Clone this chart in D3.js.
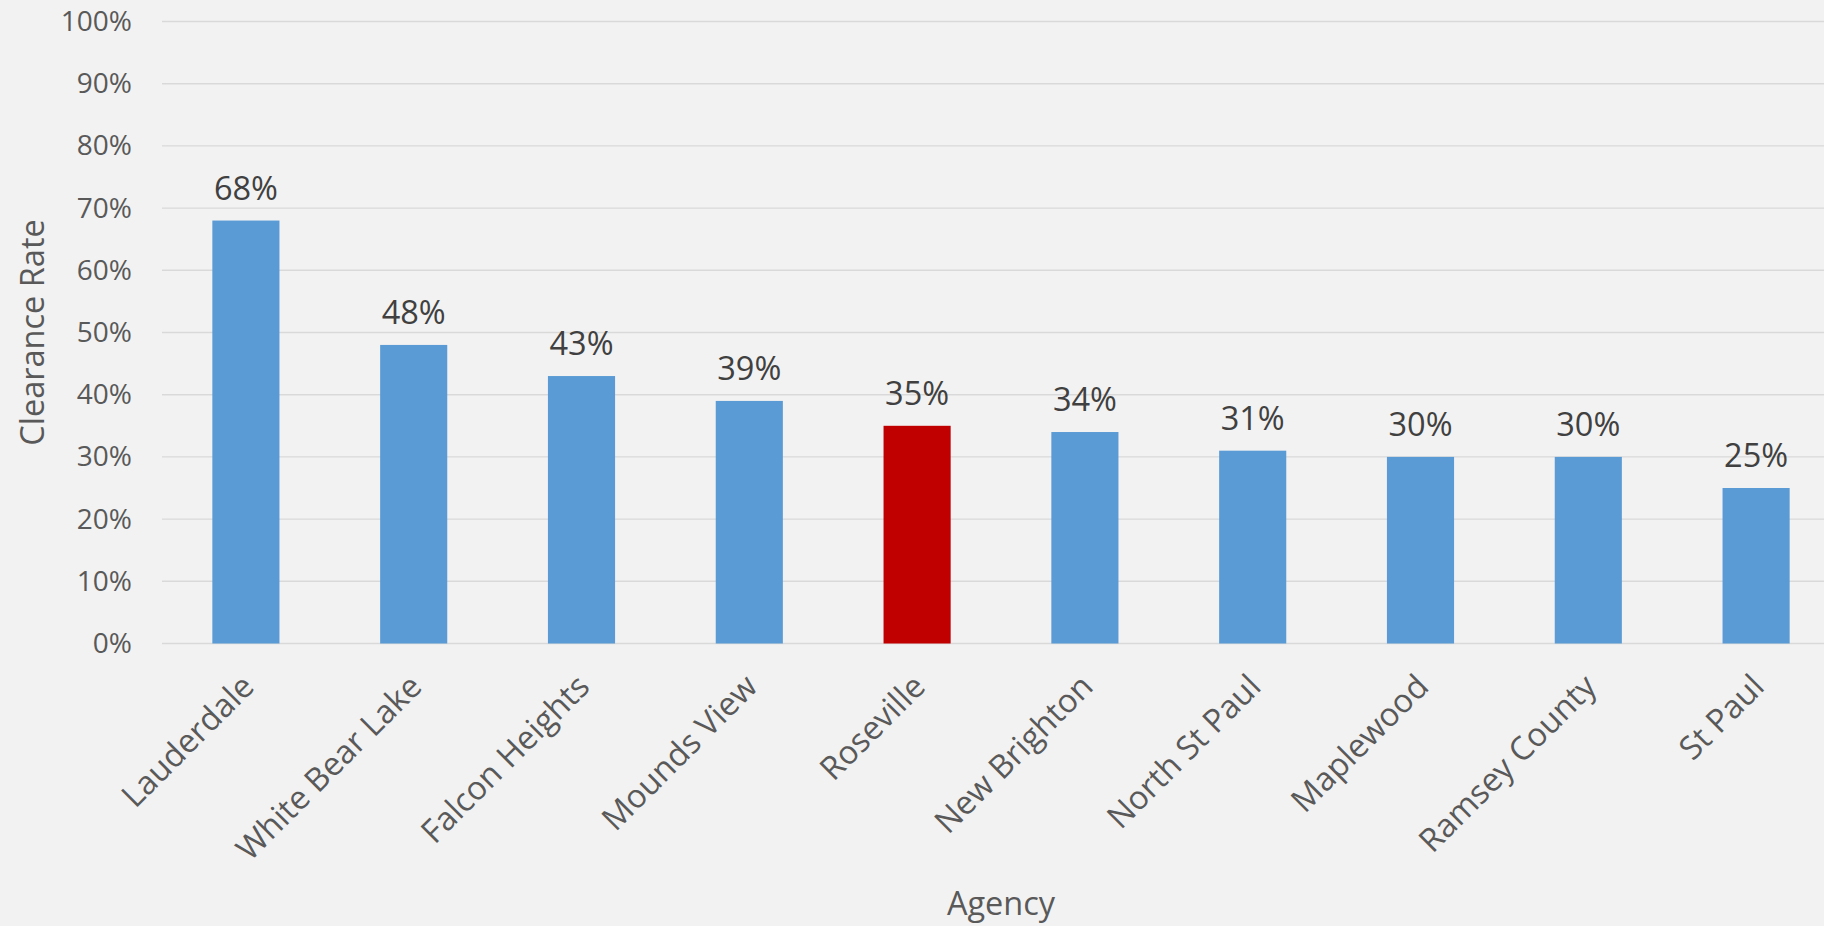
<!DOCTYPE html>
<html>
<head>
<meta charset="utf-8">
<script src="https://cdn.jsdelivr.net/npm/d3@7/dist/d3.min.js"></script>
<style>
  html, body { margin: 0; padding: 0; background: #F2F2F2; }
  svg { display: block; font-family: "Open Sans", "Noto Sans", sans-serif; }
</style>
</head>
<body>
<svg id="chart" width="1824" height="926"></svg>
<script>
// Clearance rate by agency
const agencies = ["Lauderdale", "White Bear Lake", "Falcon Heights", "Mounds View", "Roseville",
                  "New Brighton", "North St Paul", "Maplewood", "Ramsey County", "St Paul"];
const clearanceRates = [0.68, 0.48, 0.43, 0.39, 0.35, 0.34, 0.31, 0.30, 0.30, 0.25];
const highlighted = ["Roseville"];
const yTicks = [0, 0.1, 0.2, 0.3, 0.4, 0.5, 0.6, 0.7, 0.8, 0.9, 1.0];

const svg = d3.select("#chart");
const plot = { left: 162, right: 1840, top: 21.5, bottom: 643.5 };

const x = d3.scaleBand()
  .domain(agencies)
  .range([plot.left, plot.right])
  .paddingInner(0.6)
  .paddingOuter(0.3);

const y = d3.scaleLinear()
  .domain([0, 1])
  .range([plot.bottom, plot.top]);

const pct = d3.format(".0%");

// Horizontal gridlines
svg.append("g")
  .selectAll("line")
  .data(yTicks)
  .join("line")
  .attr("x1", plot.left)
  .attr("x2", plot.right)
  .attr("y1", d => y(d))
  .attr("y2", d => y(d))
  .attr("stroke", "#D9D9D9")
  .attr("stroke-width", 1.4);

// Y axis tick labels
const yAxis = svg.append("g")
  .attr("transform", `translate(${plot.left},0)`)
  .call(d3.axisLeft(y).tickValues(yTicks).tickFormat(pct).tickSize(0).tickPadding(30));
yAxis.select(".domain").remove();
yAxis.selectAll("text")
  .attr("fill", "#595959")
  .style("font-size", "28px")
  .style("font-family", "'Open Sans', sans-serif");

// Bars
svg.append("g")
  .selectAll("rect")
  .data(agencies)
  .join("rect")
  .attr("x", d => x(d))
  .attr("width", x.bandwidth())
  .attr("y", (d, i) => y(clearanceRates[i]))
  .attr("height", (d, i) => y(0) - y(clearanceRates[i]))
  .attr("fill", d => highlighted.includes(d) ? "#C00000" : "#5B9BD5");

// Value labels above bars
svg.append("g")
  .selectAll("text")
  .data(agencies)
  .join("text")
  .attr("x", d => x(d) + x.bandwidth() / 2)
  .attr("y", (d, i) => y(clearanceRates[i]) - 21)
  .attr("text-anchor", "middle")
  .attr("fill", "#404040")
  .style("font-size", "32.5px")
  .text((d, i) => pct(clearanceRates[i]));

// Category labels, rotated
const xAxis = svg.append("g")
  .attr("transform", `translate(0,${plot.bottom})`)
  .call(d3.axisBottom(x).tickSize(0).tickPadding(0));
xAxis.select(".domain").remove();
xAxis.selectAll("text")
  .attr("fill", "#595959")
  .style("font-size", "32.5px")
  .style("font-family", "'Open Sans', sans-serif")
  .attr("text-anchor", "end")
  .attr("dy", null)
  .attr("y", 0)
  .attr("transform", "translate(10,45) rotate(-45)");

// Axis titles
svg.append("text")
  .attr("transform", "translate(44,332.5) rotate(-90)")
  .attr("text-anchor", "middle")
  .attr("fill", "#595959")
  .style("font-size", "32.5px")
  .text("Clearance Rate");

svg.append("text")
  .attr("x", (plot.left + plot.right) / 2)
  .attr("y", 915)
  .attr("text-anchor", "middle")
  .attr("fill", "#595959")
  .style("font-size", "32.5px")
  .text("Agency");
</script>
</body>
</html>
